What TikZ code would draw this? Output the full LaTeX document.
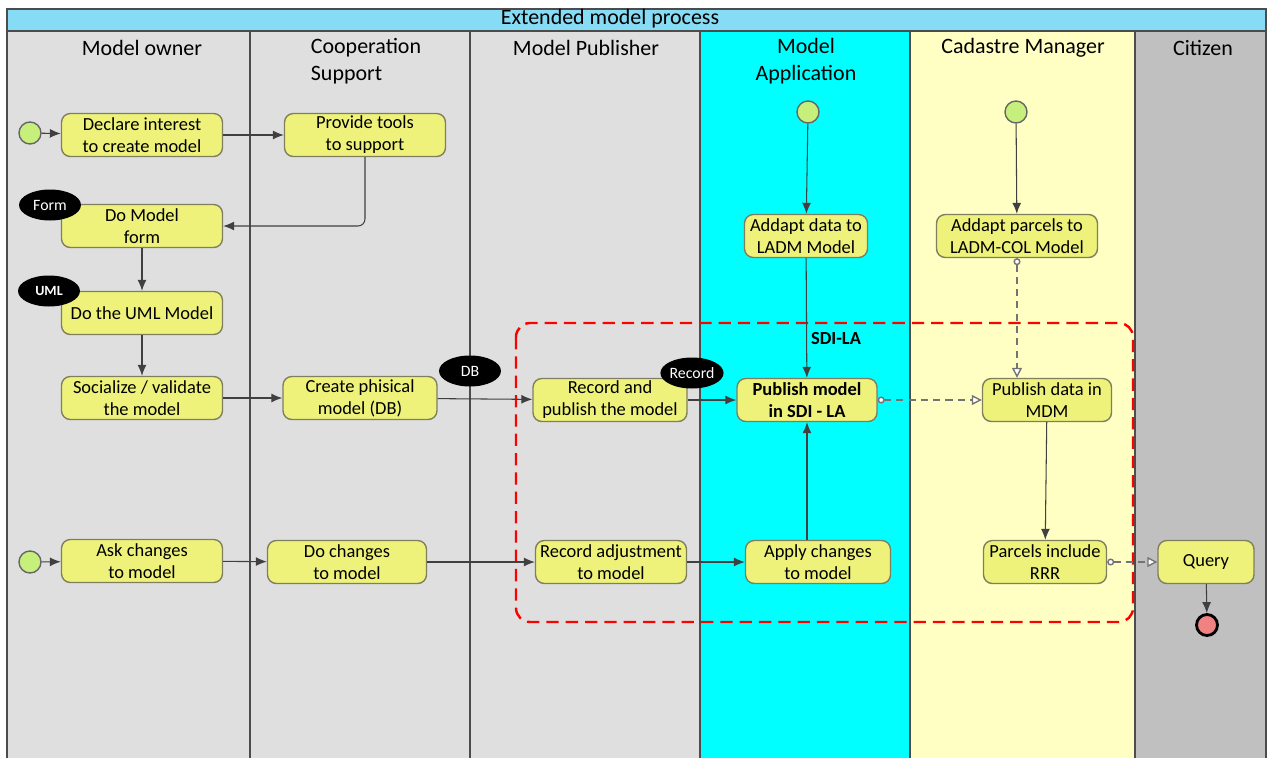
\documentclass[tikz,border=0pt]{standalone}
\usepackage{fontspec}
\setmainfont{Carlito}
\usetikzlibrary{arrows.meta,shapes.geometric}

\definecolor{lanegray}{HTML}{DFDFDF}
\definecolor{laneaqua}{HTML}{00FFFF}
\definecolor{laneyellow}{HTML}{FFFFC4}
\definecolor{lanecitizen}{HTML}{C0C0C0}
\definecolor{titleblue}{HTML}{86DCF4}
\definecolor{taskfill}{HTML}{EEF27A}
\definecolor{taskline}{HTML}{7F7F60}
\definecolor{startfill}{HTML}{C6EF7C}
\definecolor{endfill}{HTML}{F08282}

\tikzset{
  task/.style={draw=taskline, fill=taskfill, rounded corners=5pt, align=center,
    inner sep=1pt, line width=0.8pt, minimum height=0.86cm,
    font=\fontsize{10.5}{12.5}\selectfont},
  startev/.style={circle, draw=black!60, fill=startfill, line width=0.8pt,
    minimum size=0.44cm, inner sep=0pt},
  endev/.style={circle, draw=black, fill=endfill, line width=1.6pt,
    minimum size=0.42cm, inner sep=0pt},
  tag/.style={ellipse, fill=black, text=white, minimum width=1.24cm,
    minimum height=0.62cm, inner sep=0pt, font=\fontsize{9}{10}\selectfont},
  lanehead/.style={align=center, font=\fontsize{12.5}{15.3}\selectfont},
  flow/.style={draw=black!75, line width=0.6pt, -{Latex[length=2.2mm,width=1.8mm]}},
  msg/.style={draw=black!55, line width=0.8pt, dash pattern=on 4pt off 3pt,
    {Circle[open,fill=white,length=1.4mm]}-{Triangle[open,fill=white,length=2mm,width=2mm]}}
}

\begin{document}
\begin{tikzpicture}[x=0.02cm, y=-0.02cm]
  \useasboundingbox (0,0) rectangle (1268,758);

  % swimlanes
  \fill[lanegray] (7,31) rectangle (700,758);
  \fill[laneaqua] (700,31) rectangle (910,758);
  \fill[laneyellow] (910,31) rectangle (1135,758);
  \fill[lanecitizen] (1135,31) rectangle (1266,758);
  \fill[titleblue] (7,9) rectangle (1266,31);
  \draw[black!70, line width=0.8pt] (7,758) -- (7,9) -- (1266,9) -- (1266,758);
  \draw[black!70, line width=0.8pt] (7,31) -- (1266,31);
  \foreach \lx in {250,470,700,910,1135}
    \draw[black!70, line width=0.8pt] (\lx,31) -- (\lx,758);

  \node[font=\fontsize{12.5}{14}\selectfont] (title) at (610,19) {Extended model process};
  \node[lanehead] (hOwner) at (142,48) {Model owner};
  \node[lanehead, align=left] (hCoop) at (366,61) {Cooperation\\Support};
  \node[lanehead] (hPub) at (586,48) {Model Publisher};
  \node[lanehead] (hApp) at (806,61) {Model\\Application};
  \node[lanehead] (hCad) at (1023,48) {Cadastre Manager};
  \node[lanehead] (hCit) at (1203,48) {Citizen};

  % SDI-LA group
  \draw[red, line width=1.4pt, dash pattern=on 7pt off 4pt, rounded corners=8pt]
    (516,323) rectangle (1133,622);
  \node[font=\fontsize{10.5}{12}\selectfont\bfseries] (sdi) at (836,339) {SDI-LA};

  % events
  \node[startev] (start1) at (30,133) {};
  \node[startev] (start2) at (30,562) {};
  \node[startev] (start3) at (808,112) {};
  \node[startev] (start4) at (1016,112) {};
  \node[endev] (stop) at (1207,625) {};

  % tasks
  \node[task, minimum width=3.22cm] (declare) at (142,135) {Declare interest\\to create model};
  \node[task, minimum width=3.22cm] (provide) at (365,135) {Provide tools\\to support};
  \node[task, minimum width=3.22cm] (form) at (142,226) {Do Model\\form};
  \node[task, minimum width=3.22cm] (uml) at (142,313) {Do the UML Model};
  \node[task, minimum width=3.22cm] (socialize) at (142,398) {Socialize / validate\\the model};
  \node[task, minimum width=3.08cm] (create) at (360,398) {Create phisical\\model (DB)};
  \node[task, minimum width=3.08cm] (record) at (610,400) {Record and\\publish the model};
  \node[task, minimum width=2.8cm, font=\fontsize{10.5}{12.5}\selectfont\bfseries] (publish) at (807,400) {Publish model\\in SDI - LA};
  \node[task, minimum width=2.46cm] (adaptdata) at (806,236) {Addapt data to\\LADM Model};
  \node[task, minimum width=3.22cm] (adaptparcels) at (1017,236) {Addapt parcels to\\LADM-COL Model};
  \node[task, minimum width=2.58cm] (mdm) at (1047,400) {Publish data in\\MDM};
  \node[task, minimum width=3.22cm] (askchanges) at (142,561) {Ask changes\\to model};
  \node[task, minimum width=3.18cm] (dochanges) at (347,562) {Do changes\\to model};
  \node[task, minimum width=3.02cm] (adjust) at (611,562) {Record adjustment\\to model};
  \node[task, minimum width=2.9cm] (apply) at (818,562) {Apply changes\\to model};
  \node[task, minimum width=2.46cm] (parcels) at (1045,562) {Parcels include\\RRR};
  \node[task, minimum width=1.92cm] (query) at (1206,562) {Query};

  % data tags
  \node[tag] (tForm) at (50,205) {Form};
  \node[tag, font=\fontsize{8}{9}\selectfont\bfseries] (tUml) at (49,291) {UML};
  \node[tag] (tDb) at (470,371) {DB};
  \node[tag] (tRecord) at (692,373) {Record};

  % sequence flows
  \draw[flow] (start1) -- (declare);
  \draw[flow] (declare) -- (provide);
  \draw[flow, rounded corners=4pt] (provide.south) |- (form.east);
  \draw[flow] (form) -- (uml);
  \draw[flow] (uml) -- (socialize);
  \draw[flow] (socialize) -- (create);
  \draw[flow] (create) -- (record);
  \draw[flow] (record) -- (publish);
  \draw[flow] (start3) -- (adaptdata);
  \draw[flow] (adaptdata) -- (publish);
  \draw[flow] (start4) -- (adaptparcels);
  \draw[flow] (start2) -- (askchanges);
  \draw[flow] (askchanges) -- (dochanges);
  \draw[flow] (dochanges) -- (adjust);
  \draw[flow] (adjust) -- (apply);
  \draw[flow] (apply.north -| publish.south) -- (publish.south);
  \draw[flow] (mdm) -- (parcels);
  \draw[flow] (query) -- (stop);

  % message flows
  \draw[msg] (adaptparcels.south) -- (adaptparcels.south |- mdm.north);
  \draw[msg] (publish) -- (mdm);
  \draw[msg] (parcels) -- (query);
\end{tikzpicture}
\end{document}
